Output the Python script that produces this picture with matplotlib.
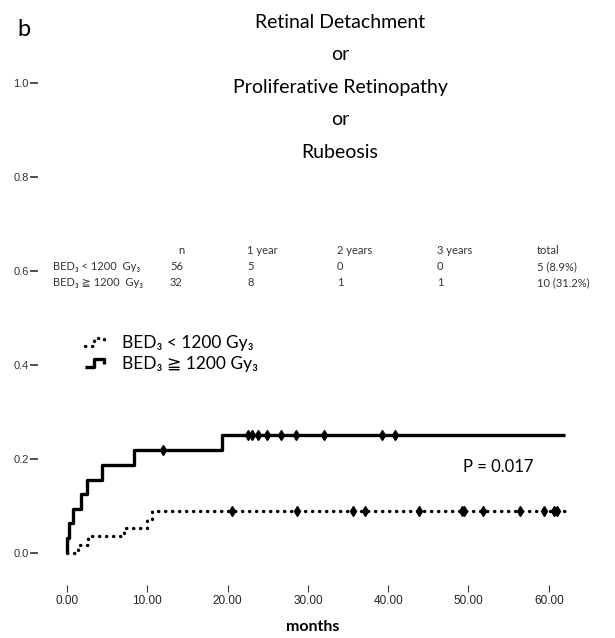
import numpy as np
import matplotlib
matplotlib.use("Agg")
import matplotlib.pyplot as plt
from matplotlib.lines import Line2D
from matplotlib.legend_handler import HandlerLine2D

# cumulative incidence, BED3 >= 1200 Gy3 (solid)
hi_event_t = [0.05, 0.3, 0.7, 1.8, 2.5, 4.3, 8.3, 19.3]
hi_cum = [0.031, 0.063, 0.094, 0.125, 0.156, 0.188, 0.219, 0.251]
hi_censor_t = [11.9, 22.6, 23.0, 23.8, 24.9, 26.6, 28.5, 32.0, 39.2, 40.8]
hi_end = 62.0

# BED3 < 1200 Gy3 (dotted)
lo_event_t = [1.4, 2.6, 7.1, 10.0, 10.6]
lo_cum = [0.018, 0.036, 0.054, 0.071, 0.089]
lo_censor_t = [20.6, 28.7, 35.6, 37.1, 43.8, 49.2, 49.5, 51.8, 56.4, 59.4, 60.7, 61.0]
lo_end = 62.3

xticks = [0, 10, 20, 30, 40, 50, 60]
yticks = [0.0, 0.2, 0.4, 0.6, 0.8, 1.0]

title_lines = ["Retinal Detachment", "or", "Proliferative Retinopathy", "or", "Rubeosis"]
table_cols = ["n", "1 year", "2 years", "3 years", "total"]
table_rows = ["BED₃ < 1200  Gy₃", "BED₃ ≧ 1200  Gy₃"]
table_vals = [["56", "5", "0", "0", "5 (8.9%)"],
              ["32", "8", "1", "1", "10 (31.2%)"]]

W, H = 615, 638
FONT = ["Lato", "DejaVu Sans"]


def fx(x):
    return x / W


def fy(y):
    return 1 - y / H


def curve(ev_t, cum, end):
    t = [0] + list(ev_t) + [end]
    v = [0] + list(cum) + [cum[-1]]
    return t, v


def value_at(ev_t, cum, times):
    idx = np.searchsorted(ev_t, times, side="right")
    vals = np.concatenate([[0], cum])
    return vals[idx]


class StepHandler(HandlerLine2D):
    def create_artists(self, legend, orig_handle, xdescent, ydescent,
                       width, height, fontsize, trans):
        xs = np.array([0, 0.4, 0.4, 0.85, 0.85]) * width - xdescent
        ys = np.array([0.15, 0.15, 0.85, 0.85, 0.45]) * height - ydescent
        line = Line2D(xs, ys)
        self.update_prop(line, orig_handle, legend)
        line.set_transform(trans)
        return [line]


fig = plt.figure(figsize=(6.15, 6.38), dpi=100)

# axes placement: month 0 at x=67px, 8.03 px/month ; y 0 at 553px, 470 px/unit
x0, xs_ = 67, 8.03
y0, ys_ = 553, 470
xlim = (-0.9, 63)
ylim = (-0.02, 1.02)
left = x0 + xlim[0] * xs_
right = x0 + xlim[1] * xs_
bottom = y0 - ylim[0] * ys_
top = y0 - ylim[1] * ys_
ax = fig.add_axes([fx(left), fy(bottom), (right - left) / W, (bottom - top) / H])
ax.set_xlim(*xlim)
ax.set_ylim(*ylim)

dotted = dict(color="black", lw=2.4, ls=(0, (0.1, 2.0)), dash_capstyle="round")
solid = dict(color="black", lw=2.4, solid_capstyle="butt")

t, v = curve(lo_event_t, lo_cum, lo_end)
ax.step(t, v, where="post", **dotted)
t, v = curve(hi_event_t, hi_cum, hi_end)
ax.step(t, v, where="post", **solid)

ax.plot(lo_censor_t, value_at(lo_event_t, lo_cum, lo_censor_t), ls="none",
        marker="d", ms=5.5, color="black")
ax.plot(hi_censor_t, value_at(hi_event_t, hi_cum, hi_censor_t), ls="none",
        marker="d", ms=5.5, color="black")

for s in ax.spines.values():
    s.set_visible(False)
ax.spines["left"].set_position(("outward", 15.5))
ax.spines["bottom"].set_position(("outward", 16))

ax.set_xticks(xticks)
ax.set_xticklabels(["%.2f" % x for x in xticks], family=["Liberation Sans"], fontsize=8.5, color="#222222")
ax.set_yticks(yticks)
ax.set_yticklabels(["%.1f" % y for y in yticks], family=["Liberation Sans"], fontsize=8, color="#333333")
ax.tick_params(axis="x", direction="out", length=5, width=0.8, pad=2.5, color="#333333")
ax.tick_params(axis="y", direction="out", length=6, width=1.2, pad=1, color="#333333")

fig.text(fx(313), fy(627), "months", ha="center", va="center", family=FONT,
         fontsize=11.5, fontweight="bold")

# title
for i, line in enumerate(title_lines):
    fig.text(fx(340), fy(22 + i * 32.5), line, ha="center", va="center",
             family=FONT, fontsize=14)
fig.text(fx(17), fy(29), "b", ha="left", va="center", family=FONT, fontsize=17)

# table
col_x = [170, 247, 337, 437, 537]
row_y = [267, 283]
for cx, name in zip(col_x, table_cols):
    xx = 181 if name == "n" else cx
    ha = "center" if name == "n" else "left"
    fig.text(fx(xx), fy(251), name, ha=ha, va="center", family=FONT, fontsize=8, color="#333333")
for ry, rname, vals in zip(row_y, table_rows, table_vals):
    fig.text(fx(53), fy(ry), rname, ha="left", va="center", family=FONT, fontsize=8, color="#333333")
    for cx, val in zip(col_x, vals):
        fig.text(fx(cx), fy(ry), val, ha="left", va="center", family=FONT, fontsize=8, color="#333333")

# legend
handles = [Line2D([], [], **dotted), Line2D([], [], **solid)]
labels = ["BED₃ < 1200 Gy₃", "BED₃ ≧ 1200 Gy₃"]
leg = ax.legend(handles, labels, handler_map={Line2D: StepHandler()},
                loc="upper left", bbox_to_anchor=(fx(85), fy(335)),
                bbox_transform=fig.transFigure, frameon=False,
                prop={"family": FONT, "size": 12.5}, handlelength=1.3,
                handletextpad=0.85, labelspacing=0.3, borderpad=0, borderaxespad=0)

ax.text(fx(463), fy(467), "P = 0.017", transform=fig.transFigure, ha="left", va="center",
        family=FONT, fontsize=12)

fig.savefig("out.png", dpi=100)
